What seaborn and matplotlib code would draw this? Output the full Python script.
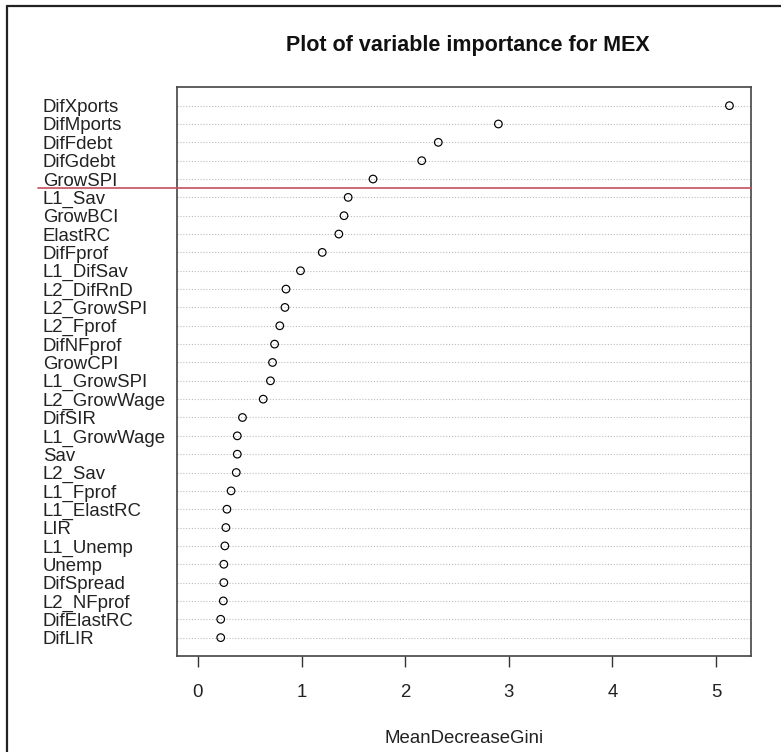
import matplotlib
matplotlib.use("Agg")
import matplotlib.pyplot as plt
from matplotlib.lines import Line2D
import seaborn as sns
import pandas as pd

# Variable importance (Mean Decrease Gini), listed from most to least important
variables = [
    "DifXports", "DifMports", "DifFdebt", "DifGdebt", "GrowSPI",
    "L1_Sav", "GrowBCI", "ElastRC", "DifFprof", "L1_DifSav",
    "L2_DifRnD", "L2_GrowSPI", "L2_Fprof", "DifNFprof", "GrowCPI",
    "L1_GrowSPI", "L2_GrowWage", "DifSIR", "L1_GrowWage", "Sav",
    "L2_Sav", "L1_Fprof", "L1_ElastRC", "LIR", "L1_Unemp",
    "Unemp", "DifSpread", "L2_NFprof", "DifElastRC", "DifLIR",
]
gini = [
    5.13, 2.90, 2.32, 2.16, 1.69,
    1.45, 1.41, 1.36, 1.20, 0.99,
    0.85, 0.84, 0.79, 0.74, 0.72,
    0.70, 0.63, 0.43, 0.38, 0.38,
    0.37, 0.32, 0.28, 0.27, 0.26,
    0.25, 0.25, 0.245, 0.22, 0.22,
]
x_ticks = [0, 1, 2, 3, 4, 5]
cutoff_after = 5  # separator drawn below the top five variables

n = len(variables)
df = pd.DataFrame({
    "variable": variables,
    "MeanDecreaseGini": gini,
    "row": [n - i for i in range(n)],
})

sns.set_style("white")
plt.rcParams["font.family"] = ["Liberation Sans", "DejaVu Sans"]

fig = plt.figure(figsize=(7.81, 7.52), dpi=100)
ax = fig.add_axes([0.2262, 0.1277, 0.735, 0.7562])

sns.scatterplot(
    data=df, x="MeanDecreaseGini", y="row", ax=ax,
    marker="o", s=30, facecolor="none", edgecolor="black", linewidth=0.85,
    zorder=3,
)

xmax = max(gini)
pad = 0.04 * xmax
ax.set_xlim(-pad, xmax + pad)
ax.set_ylim(0, n + 1)

# dotted guide line for every variable
ax.set_yticks(df["row"])
ax.set_yticklabels(df["variable"], ha="left", fontsize=13.4, color="#222222")
ax.tick_params(axis="y", length=0, pad=96.5)
ax.grid(axis="y", linestyle=(0, (1, 1.6)), color="#bdbdbd", linewidth=0.8)
ax.grid(axis="x", visible=False)

ax.set_xticks(x_ticks)
ax.set_xticklabels([str(t) for t in x_ticks], fontsize=13.4, color="#222222")
ax.tick_params(axis="x", direction="out", length=7.6, width=1.0,
               color="#333333", pad=12.5, bottom=True)

for side in ["left", "right", "top", "bottom"]:
    ax.spines[side].set_visible(True)
    ax.spines[side].set_color("#444444")
    ax.spines[side].set_linewidth(1.2)

ax.set_ylabel("")
ax.set_xlabel("MeanDecreaseGini", fontsize=13.4, color="#222222")
ax.xaxis.set_label_coords(0.5, -0.145)
ax.xaxis.label.set_va("center")

# separator between the leading variables and the rest
sep_y = n - cutoff_after + 0.5
ax.axhline(sep_y, xmin=-0.2416, xmax=1.0, color="#c4505a",
           linewidth=1.2, clip_on=False, zorder=4)

fig.text(0.5985, 1 - 45 / 752, "Plot of variable importance for MEX",
         ha="center", va="center", fontsize=15.5, fontweight="bold",
         color="#111111")

# outer frame (left and top edges)
fig.add_artist(Line2D([7.3 / 781, 7.3 / 781], [0, 1 - 6 / 752],
                      transform=fig.transFigure, color="#222222", linewidth=1.6))
fig.add_artist(Line2D([7.3 / 781, 1], [1 - 6 / 752, 1 - 6 / 752],
                      transform=fig.transFigure, color="#222222", linewidth=1.6))

fig.savefig("out.png", dpi=100)
